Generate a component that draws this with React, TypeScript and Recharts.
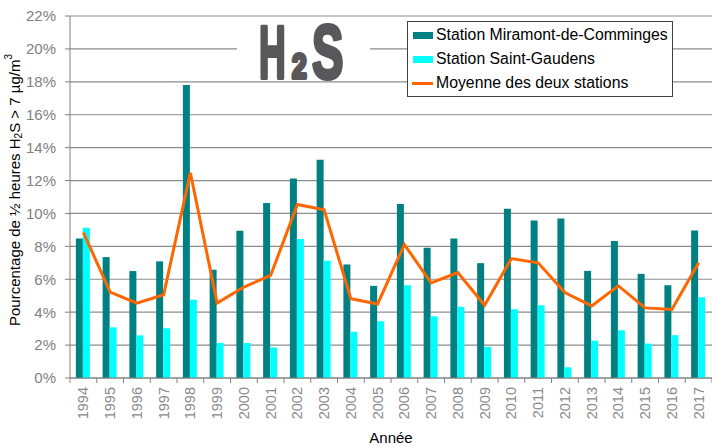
import {
  ComposedChart,
  Bar,
  Line,
  XAxis,
  YAxis,
  CartesianGrid,
  Legend,
} from 'recharts'

const years = [
  '1994', '1995', '1996', '1997', '1998', '1999', '2000', '2001', '2002', '2003', '2004', '2005',
  '2006', '2007', '2008', '2009', '2010', '2011', '2012', '2013', '2014', '2015', '2016', '2017',
]
const miramont = [
  8.48, 7.35, 6.5, 7.09, 17.81, 6.58, 8.95, 10.63, 12.13, 13.26, 6.9, 5.6,
  10.57, 7.91, 8.48, 6.98, 10.28, 9.57, 9.7, 6.51, 8.32, 6.33, 5.64, 8.97,
]
const saintGaudens = [
  9.13, 3.08, 2.59, 3.02, 4.76, 2.13, 2.13, 1.86, 8.44, 7.13, 2.81, 3.45,
  5.64, 3.75, 4.32, 1.89, 4.18, 4.42, 0.65, 2.27, 2.9, 2.09, 2.6, 4.91,
]
const moyenne = [
  8.85, 5.22, 4.55, 5.06, 12.47, 4.55, 5.53, 6.23, 10.55, 10.22, 4.82, 4.5,
  8.11, 5.78, 6.41, 4.42, 7.26, 7.0, 5.19, 4.38, 5.6, 4.26, 4.16, 7.0,
]
const yTicks = [0, 2, 4, 6, 8, 10, 12, 14, 16, 18, 20, 22]

const TEAL = '#008080'
const CYAN = '#00ffff'
const ORANGE = '#ff6600'
const GREY = '#808080'
const FONT = '"Liberation Sans", Arial, sans-serif'

const W = 712
const H = 447
const PLOT_LEFT = 70
const HALF_CAT = (W - PLOT_LEFT) / years.length / 2

const chartData = years.map((year, i) => ({
  year,
  miramont: miramont[i],
  saintGaudens: saintGaudens[i],
  moyenne: moyenne[i],
}))

// tick marks sit between the categories, labels are turned upright
function YearTick(props: any) {
  const { x, y, payload, index } = props
  const last = index === years.length - 1
  return (
    <g>
      <line x1={x - HALF_CAT} y1={y} x2={x - HALF_CAT} y2={y + 5} stroke={GREY} />
      {last && <line x1={x + HALF_CAT} y1={y} x2={x + HALF_CAT} y2={y + 5} stroke={GREY} />}
      <text
        x={x}
        y={y + 9}
        dy="0.35em"
        transform={`rotate(-90, ${x}, ${y + 9})`}
        textAnchor="end"
        fill="#8a8a8a"
        fontSize={14.5}
        fontFamily={FONT}
      >
        {payload.value}
      </text>
    </g>
  )
}

function YLabel(props: any) {
  const vb = props.viewBox || { x: 10, y: 16, height: 362 }
  const cx = 14
  const cy = vb.y + vb.height / 2 - 7
  return (
    <text
      transform={`translate(${cx}, ${cy}) rotate(-90)`}
      textAnchor="middle"
      dominantBaseline="central"
      fill="#000"
      fontSize={15}
      fontFamily={FONT}
    >
      Pourcentage de ½ heures H<tspan fontSize={10} dy={4}>2</tspan>
      <tspan dy={-4}>S &gt; 7 µg/m</tspan>
      <tspan fontSize={10} dy={-6}>3</tspan>
    </text>
  )
}

function LegendBox() {
  const rows = [
    { label: 'Station Miramont-de-Comminges', color: TEAL, kind: 'box' },
    { label: 'Station Saint-Gaudens', color: CYAN, kind: 'box' },
    { label: 'Moyenne des deux stations', color: ORANGE, kind: 'line' },
  ]
  return (
    <div
      style={{
        border: '1px solid #404040',
        background: '#fff',
        width: 264,
        height: 73,
        paddingTop: 1,
        boxSizing: 'content-box',
        fontFamily: FONT,
        fontSize: 15.8,
        color: '#000',
      }}
    >
      {rows.map((r) => (
        <div key={r.label} style={{ display: 'flex', alignItems: 'center', height: 24, paddingLeft: r.kind === 'line' ? 4 : 5 }}>
          {r.kind === 'box' ? (
            <span style={{ display: 'inline-block', width: 20, height: 7, background: r.color }} />
          ) : (
            <span style={{ display: 'inline-block', width: 21, height: 3, background: r.color }} />
          )}
          <span style={{ marginLeft: 3, whiteSpace: 'nowrap' }}>{r.label}</span>
        </div>
      ))}
    </div>
  )
}

function H2SLogo() {
  const ink = '#58585a'
  return (
    <svg width={W} height={H} style={{ position: 'absolute', left: 0, top: 0, pointerEvents: 'none' }}>
      <rect x={237} y={20} width={133} height={58} fill="#fff" />
      <g fill={ink} stroke={ink} strokeWidth={4} strokeLinejoin="round" fontFamily={FONT} fontWeight="bold">
        <text transform="translate(259, 78) scale(0.5, 1)" fontSize={74}>H</text>
        <text transform="translate(292, 78) scale(0.75, 1)" fontSize={35}>2</text>
        <text transform="translate(312, 78) scale(0.62, 1)" fontSize={76}>S</text>
      </g>
    </svg>
  )
}

export default function App() {
  return (
    <div style={{ position: 'absolute', left: 0, top: 0, width: W, height: H, background: '#fff' }}>
      <ComposedChart
        width={W}
        height={H}
        data={chartData}
        margin={{ top: 16, right: 0, bottom: 0, left: 10 }}
        barCategoryGap="22%"
        barGap={0}
      >
        <CartesianGrid vertical={false} stroke="#8c8c8c" strokeWidth={1.2} />
        <XAxis
          dataKey="year"
          height={69}
          stroke={GREY}
          tickLine={false}
          tickSize={0}
          tickMargin={0}
          interval={0}
          tick={<YearTick />}
          label={{ value: 'Année', position: 'insideBottom', offset: 4, fill: '#000', fontSize: 15, fontFamily: FONT }}
        />
        <YAxis
          width={60}
          domain={[0, 22]}
          ticks={yTicks}
          stroke={GREY}
          tickSize={5}
          tickMargin={9}
          tickFormatter={(v: number) => `${v}%`}
          tick={{ fill: GREY, fontSize: 15, fontFamily: FONT }}
          label={<YLabel />}
        />
        <Legend
          layout="horizontal"
          verticalAlign="middle"
          content={<LegendBox />}
          wrapperStyle={{ left: 407, top: 21, width: 'auto' }}
        />
        <Bar dataKey="miramont" name="Station Miramont-de-Comminges" fill={TEAL} isAnimationActive={false} />
        <Bar dataKey="saintGaudens" name="Station Saint-Gaudens" fill={CYAN} isAnimationActive={false} />
        <Line
          dataKey="moyenne"
          name="Moyenne des deux stations"
          stroke={ORANGE}
          strokeWidth={3}
          dot={false}
          type="linear"
          isAnimationActive={false}
        />
      </ComposedChart>
      <H2SLogo />
    </div>
  )
}
